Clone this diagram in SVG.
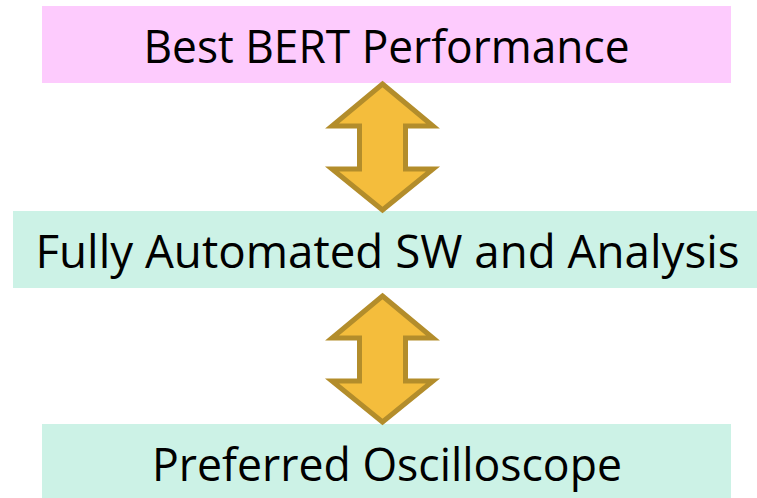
<svg xmlns="http://www.w3.org/2000/svg" width="757" height="498" viewBox="0 0 757 498">
<style>
.lbl{font-family:"Open Sans","Noto Sans","Liberation Sans",sans-serif;font-size:46px;fill:#000;text-anchor:middle}
.arrow{fill:#F4BD3C;stroke:#B38D2B;stroke-width:5;stroke-linejoin:miter;stroke-miterlimit:10}
</style>
<rect width="757" height="498" fill="#FFFFFF"/>
<g id="node-bert">
<rect x="42" y="6" width="689" height="77" fill="#FDCBFD"/>
<text class="lbl" x="386.5" y="62.5" textLength="486" lengthAdjust="spacingAndGlyphs">Best BERT Performance</text>
</g>
<g id="node-sw">
<rect x="13" y="211" width="744" height="77" fill="#CCF2E6"/>
<text class="lbl" x="387.5" y="267.5" textLength="704" lengthAdjust="spacingAndGlyphs">Fully Automated SW and Analysis</text>
</g>
<g id="node-scope">
<rect x="42" y="424" width="689" height="74" fill="#CCF2E6"/>
<text class="lbl" x="387" y="480.5" textLength="470" lengthAdjust="spacingAndGlyphs">Preferred Oscilloscope</text>
</g>
<g id="connectors">
<polygon class="arrow" points="382.5,84 433,126 405.5,126 405.5,169 433,169 382.5,210 332,169 359.5,169 359.5,126 332,126"/>
<polygon class="arrow" points="382.5,296 433,338 405.5,338 405.5,381 433,381 382.5,422 332,381 359.5,381 359.5,338 332,338"/>
</g>
</svg>
